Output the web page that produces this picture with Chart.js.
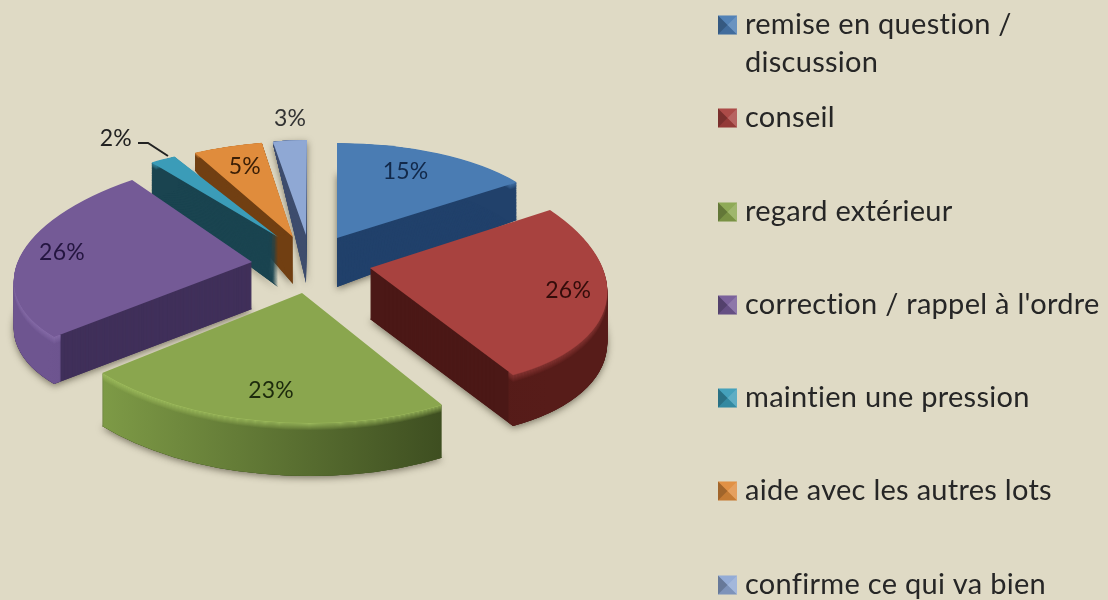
<!DOCTYPE html>
<html><head><meta charset="utf-8">
<style>html,body{margin:0;padding:0;background:#DFDAC5}canvas{display:block;filter:blur(.5px)}</style>
<script src="https://cdn.jsdelivr.net/npm/chart.js@4/dist/chart.umd.min.js"></script>
</head><body>
<canvas id="c" width="1108" height="600"></canvas>
<script>
const categories = ["remise en question / discussion","conseil","regard extérieur","correction / rappel à l'ordre","maintien une pression","aide avec les autres lots","confirme ce qui va bien"];
const values = [15,26,23,26,2,5,3];

const topColors  = ["#4A7CB3","#A8423F","#8AA64E","#745A96","#3B9CB8","#E08C3C","#8FA8D4"];
const faceColors = ["#21416B","#4B1816","#3F5220","#40305A","#1A4450","#713F12","#3F4E6E"];
const rimStops   = [["#21416B","#21416B"],["#4B1816","#571C19"],["#7F9C47","#36451C"],["#6E5590","#54407A"],["#1A4450","#1A4450"],["#713F12","#713F12"],["#3F4E6E","#3F4E6E"]];
const bevelColors= ["#4A7CB3","#8E3836","#A2C060","#8A70AC","#3B9CB8","#E08C3C","#8FA8D4"];
const labelInk   = ["#12294A","#330C0A","#1C2A0C","#241540","#222","#3A1E06","#333"];
// per-slice projection of the unit pie: a,b,c,d matrix + exploded apex
const camA=[222,236.5,260,237,215,223.5,181.7], camB=[0,13.9,3.6,-8.4,0,.5,-1.6], camC=[0,19.3,.7,-24,0,-10.9,-1], camD=[95,117.9,130,107.5,92,95.8,95];
const apexX=[337,370,302,252,278,293,306], apexY=[238,268,293,262,237,237,235];
const depth=[49,51,53,47,50,47,48], taper=[.2,0,0,0,.25,.35,.5];
const labelReach=[.75,.84,.75,.81,1.4,.75,1.24];
const labelNudgeX=[-7,0,-1,-2,-1,1,4], labelNudgeY=[-3,-7,2,-5,10,-3,1];
const drawOrder=[6,5,4,0,3,1,2];
const legendRows=[25,118,212,305,398,491,585];
const legendWrap=[["remise en question /","discussion"]];
const leader=[[138,143],[148,143],[168,156]];

const FONT='Lato, Carlito, sans-serif';

function place(ctx,el,i,t){
  const R=el.outerRadius,k=1+t*taper[i];
  ctx.transform(camA[i]/R,camB[i]*k/R,camC[i]/R,camD[i]*k/R,apexX[i],apexY[i]+t*depth[i]);
  ctx.translate(-el.x,-el.y);
}
function paint(ctx,el,i,t,fill,inner){
  const o=el.options,ir=el.innerRadius;
  el.options=Object.assign({},o,{backgroundColor:fill,borderWidth:0});
  el.innerRadius=inner||0;
  ctx.save();place(ctx,el,i,t);el.draw(ctx);ctx.restore();
  el.options=o;el.innerRadius=ir;
}
const pie3d={
  id:'pie3d',
  beforeDatasetDraw(chart){
    const ctx=chart.ctx,els=chart.getDatasetMeta(0).data;
    drawOrder.forEach(i=>{
      const el=els[i],R=el.outerRadius,D=depth[i];
      ctx.save();ctx.shadowColor='rgba(40,35,20,.55)';ctx.shadowBlur=7;ctx.shadowOffsetY=2;
      paint(ctx,el,i,1,faceColors[i]);ctx.restore();
      for(let s=D;s>=1;s--)paint(ctx,el,i,s/D,faceColors[i]);
      const g=ctx.createLinearGradient(el.x-R*.8,0,el.x+R*.7,0);
      g.addColorStop(0,rimStops[i][0]);g.addColorStop(1,rimStops[i][1]);
      for(let s=D;s>=1;s--){
        ctx.save();
        if(s<=7){paint(ctx,el,i,s/D,g,R*.965);ctx.globalAlpha=(8-s)/8;paint(ctx,el,i,s/D,bevelColors[i],R*.965);}
        else paint(ctx,el,i,s/D,g,R*.965);
        ctx.restore();
      }
      paint(ctx,el,i,0,topColors[i]);
    });
    return false;
  },
  afterDraw(chart){
    const ctx=chart.ctx,els=chart.getDatasetMeta(0).data;
    ctx.save();ctx.textBaseline='middle';ctx.textAlign='center';ctx.font='23px '+FONT;ctx.letterSpacing='0.2px';
    els.forEach((el,i)=>{
      const mid=(el.startAngle+el.endAngle)/2,ux=Math.cos(mid),uy=Math.sin(mid),f=labelReach[i];
      ctx.fillStyle=labelInk[i];
      ctx.fillText(values[i]+'%',apexX[i]+labelNudgeX[i]+f*(camA[i]*ux+camC[i]*uy),apexY[i]+labelNudgeY[i]+f*(camB[i]*ux+camD[i]*uy));
    });
    ctx.strokeStyle='#222';ctx.lineWidth=2;ctx.beginPath();
    leader.forEach((p,k)=>k?ctx.lineTo(p[0],p[1]):ctx.moveTo(p[0],p[1]));ctx.stroke();
    // legend
    ctx.textAlign='left';ctx.font='29px '+FONT;ctx.letterSpacing='0.28px';
    categories.forEach((c,i)=>{
      const y=legendRows[i],x=718,s=19,m=[x+s/2,y];
      ctx.fillStyle=topColors[i];ctx.fillRect(x,y-s/2,s,s);
      [[[x,y-s/2],[x,y+s/2],'rgba(0,0,0,.28)'],[[x,y+s/2],[x+s,y+s/2],'rgba(0,0,0,.12)'],[[x+s,y+s/2],[x+s,y-s/2],'rgba(255,255,255,.18)'],[[x+s,y-s/2],[x,y-s/2],'rgba(255,255,255,.05)']].forEach(t=>{
        ctx.fillStyle=t[2];ctx.beginPath();ctx.moveTo(m[0],m[1]);ctx.lineTo(t[0][0],t[0][1]);ctx.lineTo(t[1][0],t[1][1]);ctx.closePath();ctx.fill();
      });
      ctx.fillStyle='#262626';
      const lines=legendWrap[i]||[c];
      lines.forEach((l,k)=>ctx.fillText(l,745,y+k*38));
    });
    ctx.restore();
  }
};
new Chart(document.getElementById('c'),{
  type:'pie',
  data:{labels:categories,datasets:[{data:values,backgroundColor:topColors,borderWidth:0}]},
  options:{responsive:false,animation:false,events:[],plugins:{legend:{display:false},tooltip:{enabled:false}}},
  plugins:[pie3d]
});
</script>
</body></html>
